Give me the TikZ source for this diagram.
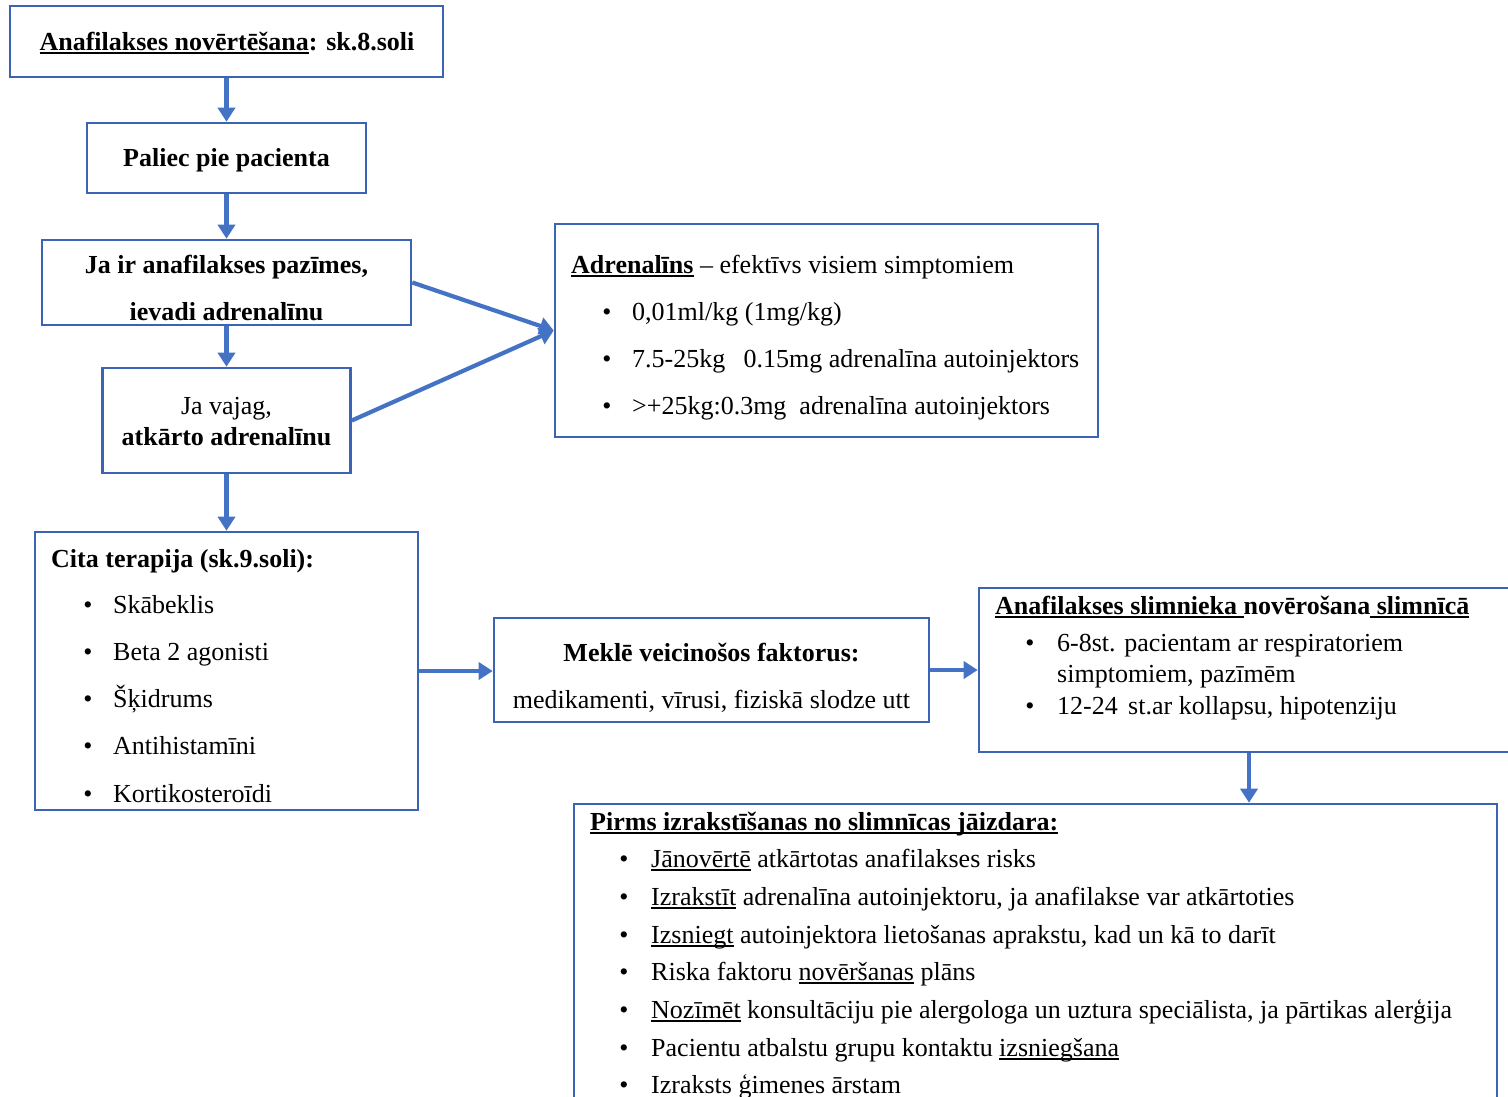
\documentclass[tikz,border=0pt]{standalone}
\usepackage{fontspec}
\setmainfont{Liberation Serif}
\usetikzlibrary{arrows.meta}
\definecolor{boxblue}{HTML}{3B64B4}
\definecolor{arrowblue}{HTML}{4472C4}

% underline drawn at a fixed depth below the baseline
\newsavebox{\ulnbox}
\newcommand{\uln}[1]{\sbox{\ulnbox}{#1}\rlap{\rule[-3.5pt]{\wd\ulnbox}{1.5pt}}\usebox{\ulnbox}}

\begin{document}
\begin{tikzpicture}[x=1pt,y=-1pt,
  box/.style={draw=boxblue, line width=2.6pt, inner sep=0pt, fill=white},
  txt/.style={font=\fontsize{26}{31}\selectfont, inner sep=0pt, anchor=base},
  ltxt/.style={txt, anchor=base west},
  dot/.style={txt, anchor=base},
  flow/.style={draw=arrowblue, line width=4.2pt, -{Triangle[length=14pt,width=17pt]}},
]
\clip (0,0) rectangle (1508,1096);
\fill[white] (0,0) rectangle (1508,1096);

% ---------- boxes ----------
\node[box, minimum width=433pt, minimum height=71pt]  (A) at (226.5,41.5) {};
\node[box, minimum width=279pt, minimum height=70pt]  (B) at (226.5,158) {};
\node[box, minimum width=369pt, minimum height=85pt]  (C) at (226.5,282.5) {};
\node[box, minimum width=248pt, minimum height=105pt] (D) at (226.5,420.5) {};
\node[box, minimum width=543pt, minimum height=213pt] (E) at (826.5,330.5) {};
\node[box, minimum width=383pt, minimum height=278pt] (F) at (226.5,671) {};
\node[box, minimum width=435pt, minimum height=104pt] (G) at (711.5,670) {};
\node[box, minimum width=540pt, minimum height=164pt] (H) at (1249,670) {};
\node[box, minimum width=923pt, minimum height=296pt] (I) at (1035.5,952) {};

% ---------- connectors ----------
\draw[flow] (A.south) -- (B.north);
\draw[flow] (B.south) -- (C.north);
\draw[flow] (C.south) -- (D.north);
\draw[flow] (D.south) -- (D.south |- F.north);
\draw[flow] (C.east) -- (E.west);
\draw[flow] (D.east) -- (E.west);
\draw[flow] (F.east) -- (F.east -| G.west);
\draw[flow] (G.east) -- (G.east -| H.west);
\draw[flow] (H.south) -- (H.south |- I.north);

% ---------- step boxes on the left ----------
\node[txt] (tA) at (227,50) {\bfseries\uln{Anafilakses novērtēšana}: sk.8.soli};
\node[txt] (tB) at (226.5,166) {\bfseries Paliec pie pacienta};
\node[txt] (tC1) at (226.5,273) {\bfseries Ja ir anafilakses pazīmes,};
\node[txt] (tC2) at (226.5,320) {\bfseries ievadi adrenalīnu};
\node[txt] (tD1) at (226.5,414) {Ja vajag,};
\node[txt] (tD2) at (226.5,445) {\bfseries atkārto adrenalīnu};

% ---------- adrenaline box ----------
\node[ltxt] (tE0) at (571,273) {\textbf{\uln{Adrenalīns}} – efektīvs visiem simptomiem};
\node[dot] (bE1) at (607,320) {•};
\node[dot] (bE2) at (607,367) {•};
\node[dot] (bE3) at (607,414) {•};
\node[ltxt] (tE1) at (632,320) {0,01ml/kg (1mg/kg)};
\node[ltxt] (tE2) at (632,367) {7.5-25kg\hspace{0.45em} 0.15mg adrenalīna autoinjektors};
\node[ltxt] (tE3) at (632,414) {>+25kg:0.3mg\hspace{0.25em} adrenalīna autoinjektors};

% ---------- other therapy ----------
\node[ltxt] (tF0) at (51,567) {\bfseries Cita terapija (sk.9.soli):};
\foreach \yy/\itemtext [count=\k] in {613/Skābeklis, 660/Beta 2 agonisti, 707/Šķidrums, 754/Antihistamīni, 802/Kortikosteroīdi}{
  \node[dot] (bF\k) at (88,\yy) {•};
  \node[ltxt] (tF\k) at (113,\yy) {\itemtext};
}

% ---------- contributing factors ----------
\node[txt] (tG1) at (711.5,661) {\bfseries Meklē veicinošos faktorus:};
\node[txt] (tG2) at (711.5,708) {medikamenti, vīrusi, fiziskā slodze utt};

% ---------- hospital observation ----------
\node[ltxt] (tH0) at (995,614) {\bfseries\uln{Anafilakses slimnieka\ }novērošana\uln{\ slimnīcā}};
\node[dot] (bH1) at (1030,651) {•};
\node[ltxt] (tH1) at (1057,651) {6-8st. pacientam ar respiratoriem};
\node[ltxt] (tH2) at (1057,682) {simptomiem, pazīmēm};
\node[dot] (bH3) at (1030,714) {•};
\node[ltxt] (tH3) at (1057,714) {12-24\hspace{0.15em} st.ar kollapsu, hipotenziju};

% ---------- before discharge ----------
\node[ltxt] (tI0) at (590,830) {\bfseries\uln{Pirms izrakstīšanas no slimnīcas jāizdara:}};
\foreach \yy [count=\k] in {867,905,943,980,1018,1056,1093}{
  \node[dot] (bI\k) at (624,\yy) {•};
}
\node[ltxt] (tI1) at (651,867) {\uln{Jānovērtē} atkārtotas anafilakses risks};
\node[ltxt] (tI2) at (651,905) {\uln{Izrakstīt} adrenalīna autoinjektoru, ja anafilakse var atkārtoties};
\node[ltxt] (tI3) at (651,943) {\uln{Izsniegt} autoinjektora lietošanas aprakstu, kad un kā to darīt};
\node[ltxt] (tI4) at (651,980) {Riska faktoru \uln{novēršanas} plāns};
\node[ltxt] (tI5) at (651,1018) {\uln{Nozīmēt} konsultāciju pie alergologa un uztura speciālista, ja pārtikas alerģija};
\node[ltxt] (tI6) at (651,1056) {Pacientu atbalstu grupu kontaktu \uln{izsniegšana}};
\node[ltxt] (tI7) at (651,1093) {Izraksts ģimenes ārstam};
\end{tikzpicture}
\end{document}
